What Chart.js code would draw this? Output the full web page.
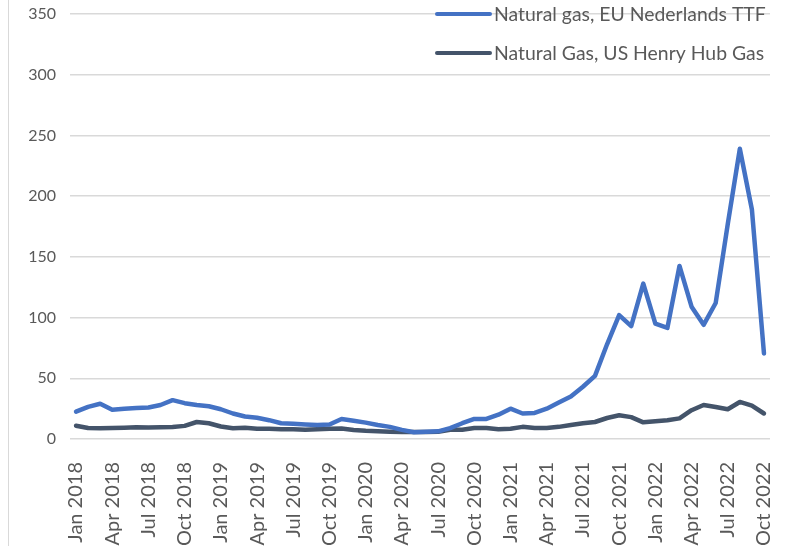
<!DOCTYPE html>
<html>
<head>
<meta charset="utf-8">
<script src="https://cdn.jsdelivr.net/npm/chart.js@4/dist/chart.umd.min.js"></script>
<style>
  body { margin: 0; background: #fff; }
  #wrap { position: relative; width: 788px; height: 546px; }
  #edge { position: absolute; left: 8px; top: 0; width: 1px; height: 546px; background: #d9d9d9; }
</style>
</head>
<body>
<div id="wrap">
  <div id="edge"></div>
  <canvas id="gasChart" width="788" height="546"></canvas>
</div>
<script>
// monthly, Jan 2018 .. Oct 2022
var years = [2018, 2019, 2020, 2021, 2022];
var monthNames = ["Jan", "Feb", "Mar", "Apr", "May", "Jun", "Jul", "Aug", "Sep", "Oct", "Nov", "Dec"];
var months = [];
years.forEach(function (y) {
  monthNames.forEach(function (m) { months.push(m + " " + y); });
});
months = months.slice(0, 58);

var ttf = [
  22.5, 26.5, 29, 24, 25, 25.5, 26, 28, 32, 29.5, 28, 27,
  24.5, 21, 18.5, 17.5, 15.5, 13, 12.5, 12, 11.5, 12, 16.5, 15,
  13.5, 11.5, 10, 7.5, 5.5, 6, 6.3, 9, 13, 16.5, 16.5, 20,
  25, 21, 21.5, 25, 30, 35, 43, 52, 78, 102, 93, 128,
  95, 91.5, 142.5, 109, 94, 112, 177, 239, 189, 70.5
];
var henryHub = [
  10.9, 9, 8.8, 9, 9.2, 9.6, 9.5, 9.7, 9.8, 10.8, 14, 13,
  10.3, 8.8, 9.3, 8.5, 8.5, 8, 8, 7.7, 8, 8.5, 8.6, 7.5,
  6.8, 6.4, 6, 5.8, 5.8, 5.8, 6, 7.6, 7.6, 9, 9, 8,
  8.5, 10, 9, 9, 10, 11.5, 13, 14, 17.3, 19.5, 18, 13.7,
  14.6, 15.4, 17, 23.7, 28, 26.4, 24.5, 30.5, 27.5, 21
];
var seriesNames = ["Natural gas, EU Nederlands TTF", "Natural Gas, US Henry Hub Gas"];
var yTicks = [0, 50, 100, 150, 200, 250, 300, 350];

var textColor = "#595959";
var fontFamily = "Lato, 'Open Sans', sans-serif";

// legend drawn inside the plot, top right
var insideLegend = {
  id: "insideLegend",
  afterDraw: function (chart) {
    var ctx = chart.ctx;
    var rows = [14, 53];
    ctx.save();
    ctx.font = "19.4px " + fontFamily;
    ctx.fillStyle = textColor;
    ctx.textBaseline = "middle";
    chart.data.datasets.forEach(function (ds, i) {
      var y = rows[i];
      ctx.strokeStyle = ds.borderColor;
      ctx.lineWidth = 4;
      ctx.lineCap = "round";
      ctx.beginPath();
      ctx.moveTo(437, y);
      ctx.lineTo(490, y);
      ctx.stroke();
      ctx.fillText(ds.label, 494, y + 1);
    });
    ctx.restore();
  }
};

var ctx = document.getElementById("gasChart").getContext("2d");
new Chart(ctx, {
  type: "line",
  data: {
    labels: months,
    datasets: [
      {
        label: seriesNames[0],
        data: ttf,
        borderColor: "#4472C4",
        borderWidth: 4.5,
        pointRadius: 0,
        tension: 0,
        borderCapStyle: "round",
        borderJoinStyle: "round"
      },
      {
        label: seriesNames[1],
        data: henryHub,
        borderColor: "#44546A",
        borderWidth: 4.5,
        pointRadius: 0,
        tension: 0,
        borderCapStyle: "round",
        borderJoinStyle: "round"
      }
    ]
  },
  options: {
    responsive: false,
    animation: false,
    layout: { padding: { top: 14, right: 18, left: 0, bottom: 0 } },
    plugins: {
      legend: { display: false },
      tooltip: { enabled: false }
    },
    scales: {
      x: {
        offset: true,
        grid: { display: false },
        border: { display: false },
        afterFit: function (scale) {
          scale.height = 107;
          scale.paddingLeft = 0;
          scale.paddingRight = 0;
        },
        ticks: {
          autoSkip: false,
          maxRotation: 90,
          minRotation: 90,
          padding: 15,
          color: textColor,
          font: { family: fontFamily, size: 20 },
          callback: function (v, i) { return i % 3 === 0 ? months[i] : ""; }
        }
      },
      y: {
        min: 0,
        max: 350,
        afterFit: function (scale) {
          scale.width = 70;
          scale.paddingTop = 0;
          scale.paddingBottom = 0;
        },
        afterBuildTicks: function (scale) {
          scale.ticks = yTicks.map(function (v) { return { value: v }; });
        },
        grid: { color: "#d9d9d9", lineWidth: 1.5, drawTicks: false },
        border: { display: false },
        ticks: {
          padding: 14,
          color: textColor,
          font: { family: fontFamily, size: 16 }
        }
      }
    }
  },
  plugins: [insideLegend]
});
</script>
</body>
</html>
